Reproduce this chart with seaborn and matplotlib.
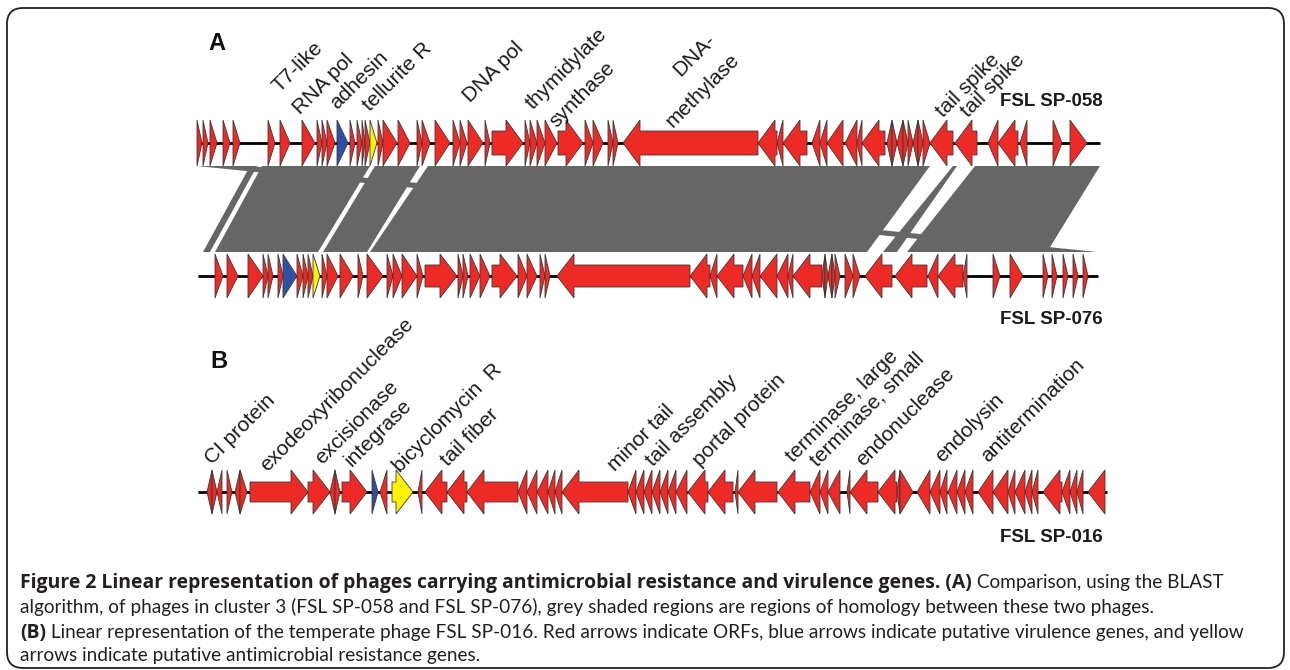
import matplotlib
matplotlib.use("Agg")
import matplotlib.pyplot as plt
import seaborn as sns
from matplotlib.patches import Polygon, FancyBboxPatch
from matplotlib.transforms import IdentityTransform

sns.set_theme(style="white")
plt.rcParams["font.family"] = ["Liberation Sans", "DejaVu Sans"]

# ---------------- data (positions in kb along each genome) ----------------
sp058_start = [0.0, 0.3, 0.65, 1.3, 1.8, 3.55, 4.15, 5.25, 6.0, 6.25, 6.5, 7.0, 7.65, 8.0, 8.25, 8.4,
               8.65, 9.05, 9.3, 10.05, 11.0, 11.25, 11.9, 12.8, 13.15, 13.55, 14.4, 14.75, 16.4, 16.65,
               17.0, 17.4, 18.05, 19.4, 19.8, 20.55, 20.8, 21.3, 28.05, 29.0, 29.3, 30.75, 31.15, 31.5,
               32.4, 33.0, 33.25, 34.5, 34.75, 35.0, 35.3, 35.55, 35.8, 36.05, 36.3, 36.65, 37.9, 39.55,
               40.05, 41.15, 42.8, 43.65]
sp058_end = [0.25, 0.55, 1.0, 1.65, 2.15, 3.9, 4.65, 5.9, 6.25, 6.5, 6.9, 7.55, 7.9, 8.25, 8.4, 8.65,
             9.0, 9.3, 10.0, 10.65, 11.25, 11.65, 12.65, 13.15, 13.5, 14.3, 14.65, 16.3, 16.65, 17.0,
             17.4, 18.0, 19.3, 19.8, 20.3, 20.8, 21.05, 28.05, 29.0, 29.3, 30.5, 31.15, 31.5, 32.3,
             33.0, 33.25, 34.4, 34.75, 35.0, 35.3, 35.55, 35.8, 36.05, 36.3, 36.65, 37.8, 39.0, 40.05,
             41.05, 41.5, 43.25, 44.5]
sp058_strand = "+++++++++++++++++++++++++++++++++++++" "-----------" "+-++-++" "-----" "++"
sp058_virulence = [11]
sp058_resistance = [16]
sp058_length = 45.15

sp076_start = [0.9, 1.5, 2.55, 3.3, 3.55, 4.05, 4.3, 5.0, 5.3, 5.55, 5.8, 6.25, 6.5, 7.15, 8.05, 8.5,
               9.5, 9.8, 10.25, 11.0, 11.4, 13.05, 13.3, 13.65, 14.15, 14.75, 16.05, 16.5, 17.15, 17.4,
               18.0, 24.65, 25.65, 26.0, 27.3, 27.75, 28.15, 29.0, 29.55, 29.8, 31.25, 31.4, 31.55,
               31.75, 31.9, 32.4, 32.8, 33.4, 34.9, 36.55, 37.05, 38.3, 39.8, 40.65, 42.3, 42.75, 43.3,
               43.8, 44.3]
sp076_end = [1.3, 2.05, 3.3, 3.55, 3.8, 4.3, 5.0, 5.3, 5.55, 5.8, 6.15, 6.5, 7.05, 7.8, 8.3, 9.3,
             9.8, 10.25, 11.0, 11.3, 13.0, 13.3, 13.55, 14.15, 14.65, 16.0, 16.5, 17.0, 17.4, 17.65,
             24.65, 25.65, 26.0, 27.3, 27.75, 28.15, 29.0, 29.55, 29.8, 31.25, 31.4, 31.55, 31.75,
             31.9, 32.15, 32.8, 33.15, 34.75, 36.5, 37.05, 38.3, 38.5, 40.15, 41.3, 42.55, 43.0, 43.55,
             44.05, 44.55]
sp076_strand = "++++++++++++++++++++++++++++++" "-----------" "+-++" "++" "-----" "+++++++"
sp076_virulence = [6]
sp076_resistance = [10]
sp076_length = 45.05

sp016_start = [0.5, 0.75, 1.0, 1.5, 1.9, 2.15, 2.65, 5.55, 6.65, 6.9, 7.25, 8.75, 9.15, 9.75, 11.05,
               11.4, 12.5, 13.5, 16.05, 16.5, 17.0, 17.55, 17.9, 18.25, 21.55, 21.95, 22.35, 22.75,
               23.15, 23.55, 23.95, 24.55, 25.55, 26.9, 27.05, 29.05, 30.65, 31.15, 31.55, 32.5, 32.65,
               34.05, 35.0, 35.15, 36.0, 36.65, 37.15, 37.55, 38.0, 38.4, 39.05, 39.8, 40.55, 40.9,
               41.4, 41.75, 42.3, 43.25, 43.65, 44.0, 44.55]
sp016_end = [0.75, 1.0, 1.25, 1.75, 2.15, 2.5, 5.55, 6.65, 6.9, 7.15, 8.5, 9.05, 9.5, 10.8, 11.25,
             12.5, 13.5, 16.05, 16.5, 17.0, 17.55, 17.9, 18.25, 21.55, 21.95, 22.35, 22.75, 23.15,
             23.55, 23.95, 24.5, 25.55, 26.8, 27.05, 29.0, 30.65, 31.15, 31.55, 32.15, 32.65, 34.05,
             35.0, 35.15, 35.8, 36.65, 37.15, 37.5, 38.0, 38.4, 38.8, 39.8, 40.55, 40.9, 41.4, 41.75,
             42.05, 43.25, 43.65, 44.0, 44.3, 45.4]
sp016_strand = "-+-+-+" "++" "-+" "+" "+" "-" "+" "-----------------------------" "+" "-----------------"
sp016_virulence = [11]
sp016_resistance = [13]
sp016_length = 45.5

# homology blocks between SP-058 (top) and SP-076 (bottom): kb ranges
hom_top_start = [0.0, 2.65, 3.25, 8.9, 11.55, 37.8, 38.9]
hom_top_end = [2.65, 3.0, 8.65, 11.15, 36.65, 38.0, 45.15]
hom_bot_start = [42.5, 0.3, 0.9, 6.3, 8.65, 34.3, 35.5]
hom_bot_end = [45.0, 0.65, 6.05, 8.5, 33.5, 35.0, 42.5]

# gene labels: (kb position, label)
labels_a_pos = [4.15, 5.15, 7.0, 8.65, 13.65, 16.8, 18.0, 24.15, 23.8, 37.3, 38.55]
labels_a_y = [93, 115, 110, 112, 103, 110, 128, 77, 128, 118, 118]
labels_a_text = ["T7-like", "RNA pol", "adhesin", "tellurite R", "DNA pol", "thymidylate",
                 "synthase", "DNA-", "methylase", "tail spike", "tail spike"]
labels_b_pos = [0.75, 3.5, 6.25, 7.75, 10.15, 12.55, 20.9, 22.8, 25.15, 29.8, 31.0, 33.3, 37.25, 39.55]
labels_b_y = [465, 472, 465, 467, 473, 467, 472, 467, 467, 463, 467, 467, 463, 463]
labels_b_text = ["CI protein", "exodeoxyribonuclease", "excisionase", "integrase", "bicyclomycin  R",
                 "tail fiber", "minor tail", "tail assembly", "portal protein", "terminase, large",
                 "terminase, small", "endonuclease", "endolysin", "antitermination"]

caption_lines = [
    [("Figure 2 Linear representation of phages carrying antimicrobial resistance and virulence genes. (A)", True),
     (" Comparison, using the BLAST", False)],
    [("algorithm, of phages in cluster 3 (FSL SP-058 and FSL SP-076), grey shaded regions are regions of homology between these two phages.", False)],
    [("(B)", True),
     (" Linear representation of the temperate phage FSL SP-016. Red arrows indicate ORFs, blue arrows indicate putative virulence genes, and yellow", False)],
    [("arrows indicate putative antimicrobial resistance genes.", False)],
]

# ---------------- style ----------------
RED = "#EE2A26"
BLUE = "#2F4FA3"
YELLOW = "#FFF200"
GREY = "#666666"
EDGE = "#3a3a3a"
W, H = 1290, 670
PX_PER_KB = 20.0
X0 = 197.0

fig = plt.figure(figsize=(W / 100, H / 100), dpi=100)
ax = fig.add_axes([0, 0, 1, 1])
ax.set_xlim(-X0 / PX_PER_KB, (W - X0) / PX_PER_KB)
ax.set_ylim(H, 0)
ax.axis("off")
sns.despine(ax=ax, left=True, bottom=True)

HEAD_LEN = 0.85


def gene_poly(s, e, strand, yc, hh, bh):
    L = e - s
    h = min(HEAD_LEN, L)
    if strand == "+":
        if h >= L:
            return [(s, yc - hh), (e, yc), (s, yc + hh)]
        b = e - h
        return [(s, yc - bh), (b, yc - bh), (b, yc - hh), (e, yc), (b, yc + hh), (b, yc + bh), (s, yc + bh)]
    else:
        if h >= L:
            return [(e, yc - hh), (s, yc), (e, yc + hh)]
        b = s + h
        return [(e, yc - bh), (b, yc - bh), (b, yc - hh), (s, yc), (b, yc + hh), (b, yc + bh), (e, yc + bh)]


def draw_track(starts, ends, strands, vir, res, length, yc, hh, bh, line_start=0.0):
    ax.plot([line_start, length], [yc, yc], color="black", lw=2.0, solid_capstyle="butt", zorder=2)
    for i, (s, e, st) in enumerate(zip(starts, ends, strands)):
        col = BLUE if i in vir else (YELLOW if i in res else RED)
        ax.add_patch(Polygon(gene_poly(s, e, st, yc, hh, bh), closed=True, facecolor=col,
                             edgecolor=EDGE, lw=0.6, zorder=3))


Y_TOP, Y_BOT = 166, 252
for ts, te, bs, be in zip(hom_top_start, hom_top_end, hom_bot_start, hom_bot_end):
    ax.add_patch(Polygon([(ts, Y_TOP), (te, Y_TOP), (be, Y_BOT), (bs, Y_BOT)], closed=True,
                         facecolor=GREY, edgecolor="none", zorder=1))

draw_track(sp058_start, sp058_end, sp058_strand, sp058_virulence, sp058_resistance, sp058_length, 143, 23, 12)
draw_track(sp076_start, sp076_end, sp076_strand, sp076_virulence, sp076_resistance, sp076_length, 276, 22, 11, 0.05)
draw_track(sp016_start, sp016_end, sp016_strand, sp016_virulence, sp016_resistance, sp016_length, 492, 22, 10, 0.05)

LBL_FS = 15
for x, y, t in zip(labels_a_pos, labels_a_y, labels_a_text):
    ax.text(x, y, t, rotation=45, rotation_mode="anchor", ha="left", va="baseline",
            fontsize=LBL_FS, color="#1a1a1a", zorder=5)
for x, y, t in zip(labels_b_pos, labels_b_y, labels_b_text):
    ax.text(x, y, t, rotation=45, rotation_mode="anchor", ha="left", va="baseline",
            fontsize=LBL_FS, color="#1a1a1a", zorder=5)

# phage names and panel letters
for name, y in [("FSL SP-058", 101), ("FSL SP-076", 319), ("FSL SP-016", 537)]:
    ax.text(1103 / PX_PER_KB - X0 / PX_PER_KB, y, name, ha="right", va="center",
            fontsize=13.5, fontweight="bold", color="#1a1a1a")
ax.text((208 - X0) / PX_PER_KB, 44, "A", ha="left", va="center", fontsize=17, fontweight="bold", color="#111111")
ax.text((210 - X0) / PX_PER_KB, 362, "B", ha="left", va="center", fontsize=17, fontweight="bold", color="#111111")

# ---------------- caption ----------------
renderer = fig.canvas.get_renderer()
cap_font = "Lato"
bold_font = "Open Sans"


def text_width(s, fs, fam, weight="normal"):
    p = fig.text(0, 0, s, fontsize=fs, family=fam, fontweight=weight)
    w = p.get_window_extent(renderer).width
    p.remove()
    return w


# fit the caption fonts to the reference line lengths (regular: lines 2, 3, 4 together)
reg_w = (text_width(caption_lines[1][0][0], 12, cap_font)
         + text_width(caption_lines[2][1][0], 12, cap_font)
         + text_width(caption_lines[3][0][0], 12, cap_font))
cap_fs = 12 * 2790 / reg_w
bold_probe = caption_lines[0][0][0][:65]
bold_fs = 12 * 625 / text_width(bold_probe, 12, bold_font, "bold")
cap_y = [588, 613, 638, 661]
for runs, y in zip(caption_lines, cap_y):
    x = 20
    for txt, bold in runs:
        t = fig.text(x / W, 1 - y / H, txt,
                     fontsize=bold_fs if bold else cap_fs,
                     family=bold_font if bold else cap_font,
                     fontweight="bold" if bold else "normal", color="#231F20",
                     ha="left", va="baseline")
        x += t.get_window_extent(renderer).width

# border
border = FancyBboxPatch((7, 2), 1277, 660, boxstyle="round,pad=0,rounding_size=16",
                        facecolor="none", edgecolor="#222222", lw=1.3, transform=IdentityTransform())
fig.add_artist(border)

fig.savefig("out.png", dpi=100)
